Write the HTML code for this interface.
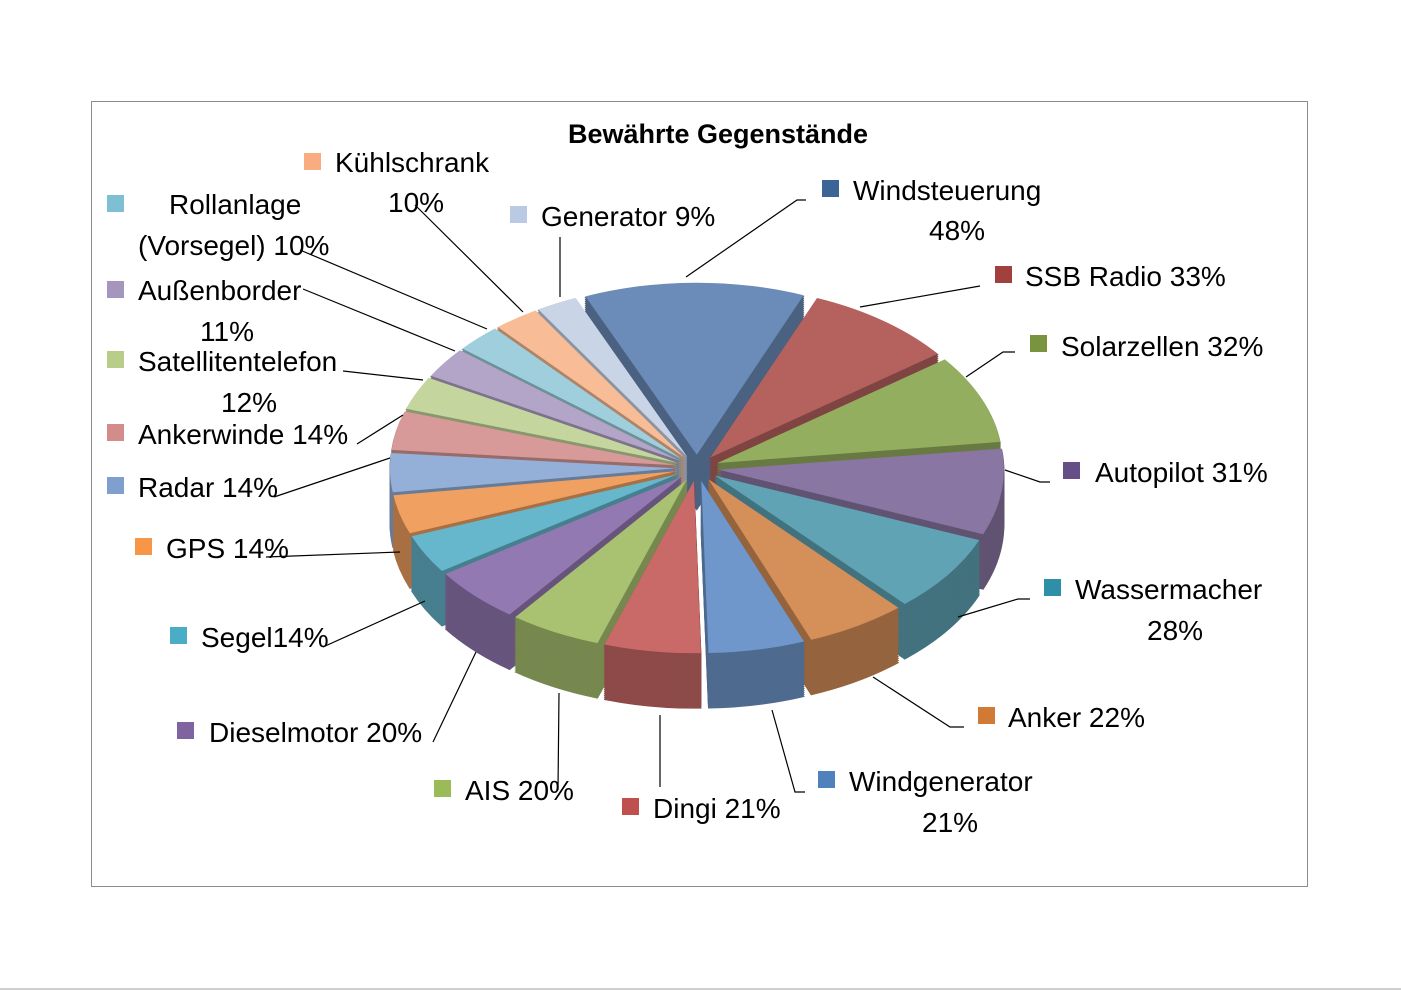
<!DOCTYPE html>
<html><head><meta charset="utf-8"><style>
html,body{margin:0;padding:0;background:#fff;}
svg{display:block}
text{font-family:"Liberation Sans",sans-serif;font-size:28px;fill:#000}
</style></head><body>
<svg id="s" width="1401" height="991" xmlns="http://www.w3.org/2000/svg">
<rect x="91.5" y="101.5" width="1216" height="785" fill="#fff" stroke="#8c8c8c" stroke-width="1"/>
<line x1="0" y1="989" x2="1401" y2="989" stroke="#cfcfcf" stroke-width="2"/>
<text x="718" y="143" text-anchor="middle" style="font-weight:bold;font-size:27px">Bewährte Gegenstände</text>
<g id="pie"></g>
<g stroke="#000" stroke-width="1.2" fill="none">
<polyline points="415,205 523,312"/>
<polyline points="300,250 487,329"/>
<polyline points="560,237 560,297"/>
<polyline points="806,200 797,200 686,277"/>
<polyline points="980,286 860,307"/>
<polyline points="1015,352 1003,352 966,377"/>
<polyline points="1050,482 1040,482 1005,470"/>
<polyline points="1030,599 1018,599 958,617"/>
<polyline points="964,727 950,727 873,677"/>
<polyline points="805,792 795,792 772,710"/>
<polyline points="660,787 660,715"/>
<polyline points="558,790 559,693"/>
<polyline points="433,742 476,652"/>
<polyline points="323,647 425,601"/>
<polyline points="266,557 400,552"/>
<polyline points="274,497 390,458"/>
<polyline points="357,444 403,415"/>
<polyline points="343,371 423,380"/>
<polyline points="303,289 455,351"/>
</g>
<g id="leg"></g>
</svg>
<script>
var data=[
["Windsteuerung",48,"#6B8CB8"],["SSB",33,"#B5625F"],["Solar",32,"#94AE60"],["Autopilot",31,"#8A76A3"],
["Wasser",28,"#5FA3B5"],["Anker",22,"#D58F58"],["Windgen",21,"#6F97CB"],["Dingi",21,"#C96A68"],
["AIS",20,"#A8C271"],["Diesel",20,"#9379B2"],["Segel",14,"#66B6CC"],["GPS",14,"#F0A060"],
["Radar",14,"#95B0D8"],["Ankerwinde",14,"#D89A98"],["Satellit",12,"#C4D69E"],["Aussen",11,"#B3A5C8"],
["Roll",10,"#9FCEDC"],["Kuehl",10,"#F8BD96"],["Gen",9,"#C9D4E6"]];
var cx=697,cy=468,rx=285,ry=172,D=55,E=22,tot=384,a=-113;
function dark(h){var r=parseInt(h.substr(1,2),16),g=parseInt(h.substr(3,2),16),b=parseInt(h.substr(5,2),16);
return "rgb("+Math.round(r*.7)+","+Math.round(g*.7)+","+Math.round(b*.7)+")";}
var sl=[];
data.forEach(function(d){var a0=a,a1=a+d[1]/tot*360;a=a1;var m=(a0+a1)/2*Math.PI/180;
sl.push({a0:a0*Math.PI/180,a1:a1*Math.PI/180,m:m,c:d[2],dx:E*Math.cos(m),dy:E*Math.sin(m)*ry/rx});});
sl.sort(function(p,q){return Math.sin(p.m)-Math.sin(q.m);});
var out="";
function path(s,off){var x0=cx+s.dx,y0=cy+s.dy+off;
var p1=[x0+rx*Math.cos(s.a0),y0+ry*Math.sin(s.a0)],p2=[x0+rx*Math.cos(s.a1),y0+ry*Math.sin(s.a1)];
var lg=(s.a1-s.a0)>Math.PI?1:0;
return "M"+x0.toFixed(1)+","+y0.toFixed(1)+"L"+p1[0].toFixed(1)+","+p1[1].toFixed(1)+"A"+rx+","+ry+" 0 "+lg+" 1 "+p2[0].toFixed(1)+","+p2[1].toFixed(1)+"Z";}
sl.forEach(function(s){var dk=dark(s.c);
for(var o=D;o>0;o-=2){out+='<path d="'+path(s,o)+'" fill="'+dk+'" stroke="'+dk+'" stroke-width="1"/>';}
out+='<path d="'+path(s,0)+'" fill="'+s.c+'"/>';});
document.getElementById("pie").innerHTML=out;
var L=[
[304,153,"#F8AC80",[["Kühlschrank",335,172],["10%",388,212]]],
[107,195,"#7FBFD4",[["Rollanlage",169,214],["(Vorsegel) 10%",138,255]]],
[510,206,"#BACAE4",[["Generator 9%",541,226]]],
[822,180,"#3C6496",[["Windsteuerung",853,200],["48%",929,240]]],
[995,266,"#A2403D",[["SSB Radio 33%",1025,286]]],
[1030,335,"#78943E",[["Solarzellen 32%",1061,356]]],
[1063,462,"#664E86",[["Autopilot 31%",1095,482]]],
[1044,579,"#2F8FA8",[["Wassermacher",1075,599],["28%",1147,640]]],
[978,707,"#D07A36",[["Anker 22%",1008,727]]],
[818,771,"#4F81BD",[["Windgenerator",849,791],["21%",922,832]]],
[622,798,"#C0504D",[["Dingi 21%",653,818]]],
[434,780,"#9BBB59",[["AIS 20%",465,800]]],
[177,722,"#8064A2",[["Dieselmotor 20%",209,742]]],
[170,627,"#4BACC6",[["Segel14%",201,647]]],
[135,538,"#F79646",[["GPS 14%",166,558]]],
[107,477,"#7F9FCF",[["Radar 14%",138,497]]],
[107,424,"#D48C8A",[["Ankerwinde 14%",138,444]]],
[107,351,"#B9CD8A",[["Satellitentelefon",138,371],["12%",221,412]]],
[107,281,"#A496BC",[["Außenborder",138,300],["11%",200,341]]]];
var g="";
L.forEach(function(l){g+='<rect x="'+l[0]+'" y="'+l[1]+'" width="17" height="17" fill="'+l[2]+'"/>';
l[3].forEach(function(t){g+='<text x="'+t[1]+'" y="'+t[2]+'">'+t[0]+'</text>';});});
document.getElementById("leg").innerHTML=g;
</script>
</body></html>
